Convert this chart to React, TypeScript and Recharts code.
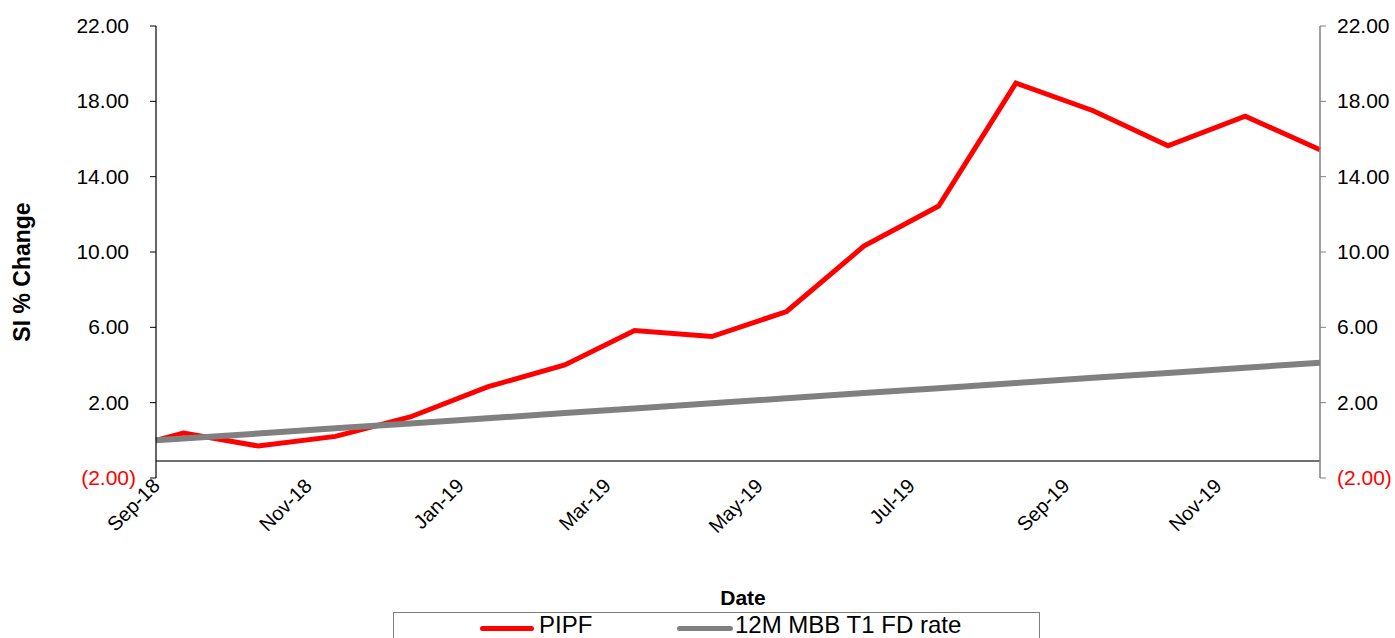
import React from 'react';
import {
  LineChart,
  Line,
  XAxis,
  YAxis,
  ReferenceLine,
  Label
} from 'recharts';

const dates = [
  '2018-09-01', '2018-09-12', '2018-10-12', '2018-11-12', '2018-12-12',
  '2019-01-12', '2019-02-12', '2019-03-12', '2019-04-12', '2019-05-12',
  '2019-06-12', '2019-07-12', '2019-08-12', '2019-09-12', '2019-10-12',
  '2019-11-12', '2019-12-12'
];
const pipf = [
  0, 0.39, -0.3, 0.21, 1.24, 2.84, 4.0, 5.83, 5.51, 6.84,
  10.31, 12.44, 18.97, 17.5, 15.64, 17.21, 15.43
];
const fdRate = [
  0, 0.1, 0.36, 0.64, 0.9, 1.17, 1.45, 1.69, 1.97, 2.23,
  2.51, 2.77, 3.04, 3.32, 3.58, 3.86, 4.12
];
const xTickDates = [
  '2018-09-01', '2018-11-01', '2019-01-01', '2019-03-01',
  '2019-05-01', '2019-07-01', '2019-09-01', '2019-11-01'
];
const yTicks = [-2, 2, 6, 10, 14, 18, 22];
const axisCross = -1.1;

const MONTHS = ['Jan', 'Feb', 'Mar', 'Apr', 'May', 'Jun', 'Jul', 'Aug', 'Sep', 'Oct', 'Nov', 'Dec'];
const FONT = '"Liberation Sans", Arial, sans-serif';

const data = dates.map((d, i) => ({ t: Date.parse(d), pipf: pipf[i], fd: fdRate[i] }));

const fmtDate = (t: number) => {
  const d = new Date(t);
  return `${MONTHS[d.getUTCMonth()]}-${String(d.getUTCFullYear()).slice(2)}`;
};

const DateTick = ({ x, y, payload }: any) => {
  const tx = x + 5;
  const ty = y + 9;
  return (
    <text x={tx} y={ty} transform={`rotate(-45 ${tx} ${ty})`} textAnchor="end"
      fontSize={20} fontFamily={FONT} fill="#000">
      {fmtDate(payload.value)}
    </text>
  );
};

const ValueTick = ({ x, y, payload, textAnchor, side }: any) => {
  const v = payload.value;
  const neg = v < 0;
  const shift = side === 'left' && !neg ? -7 : 0;
  return (
    <text x={x + shift} y={y} dy={7} textAnchor={textAnchor} fontSize={21}
      fontFamily={FONT} fill={neg ? '#FF0000' : '#000'}>
      {neg ? `(${Math.abs(v).toFixed(2)})` : v.toFixed(2)}
    </text>
  );
};

const Legend = () => (
  <div style={{
    position: 'absolute', left: 393, top: 612, width: 647, height: 40,
    border: '1.5px solid #808080', boxSizing: 'border-box', fontFamily: FONT,
    fontSize: 24, color: '#000'
  }}>
    <div style={{ position: 'absolute', left: 86, top: 13, width: 54, height: 5, background: '#FF0000', borderRadius: 3 }} />
    <div style={{ position: 'absolute', left: 145, top: 0, lineHeight: '24px' }}>PIPF</div>
    <div style={{ position: 'absolute', left: 283, top: 13, width: 56, height: 5, background: '#808080', borderRadius: 3 }} />
    <div style={{ position: 'absolute', left: 341, top: 0, lineHeight: '24px' }}>12M MBB T1 FD rate</div>
  </div>
);

export default function App() {
  const first = data[0].t;
  const last = data[data.length - 1].t;
  return (
    <div style={{ position: 'absolute', left: 0, top: 0, width: 1395, height: 638, overflow: 'hidden', background: '#fff' }}>
      <LineChart width={1395} height={638} data={data}
        margin={{ top: 26, right: 0, left: 0, bottom: 50 }}>
        <XAxis dataKey="t" type="number" domain={[first, last]}
          ticks={xTickDates.map((d) => Date.parse(d))}
          axisLine={false} tickLine={false} tickSize={0} tickMargin={0}
          height={110} interval={0} tick={<DateTick />}>
          <Label value="Date" position="bottom" offset={2} dx={5}
            style={{ fontFamily: FONT, fontSize: 21, fontWeight: 'bold', fill: '#000' }} />
        </XAxis>
        <YAxis yAxisId="left" orientation="left" width={156} domain={[-2, 22]}
          ticks={yTicks} interval={0} allowDataOverflow
          axisLine={{ stroke: '#000', strokeWidth: 1.2 }} tickLine={{ stroke: '#000' }}
          tickSize={6} tickMargin={14} tick={<ValueTick side="left" />}>
          <Label content={() => (
            <text x={0} y={0} transform="translate(30 272) rotate(-90)" textAnchor="middle"
              fontFamily={FONT} fontSize={23} fontWeight="bold" fill="#000">SI % Change</text>
          )} />
        </YAxis>
        <YAxis yAxisId="right" orientation="right" width={75} domain={[-2, 22]}
          ticks={yTicks} interval={0} allowDataOverflow
          axisLine={{ stroke: '#808080', strokeWidth: 1.5 }} tickLine={{ stroke: '#808080' }}
          tickSize={6} tickMargin={11} tick={<ValueTick side="right" />} />
        <ReferenceLine yAxisId="left" y={axisCross} stroke="#404040" strokeWidth={1.5} />
        <Line yAxisId="left" type="linear" dataKey="pipf" stroke="#FF0000" strokeWidth={5}
          dot={false} activeDot={false} isAnimationActive={false} />
        <Line yAxisId="right" type="linear" dataKey="fd" stroke="#808080" strokeWidth={6}
          dot={false} activeDot={false} isAnimationActive={false} />
      </LineChart>
      <Legend />
    </div>
  );
}
